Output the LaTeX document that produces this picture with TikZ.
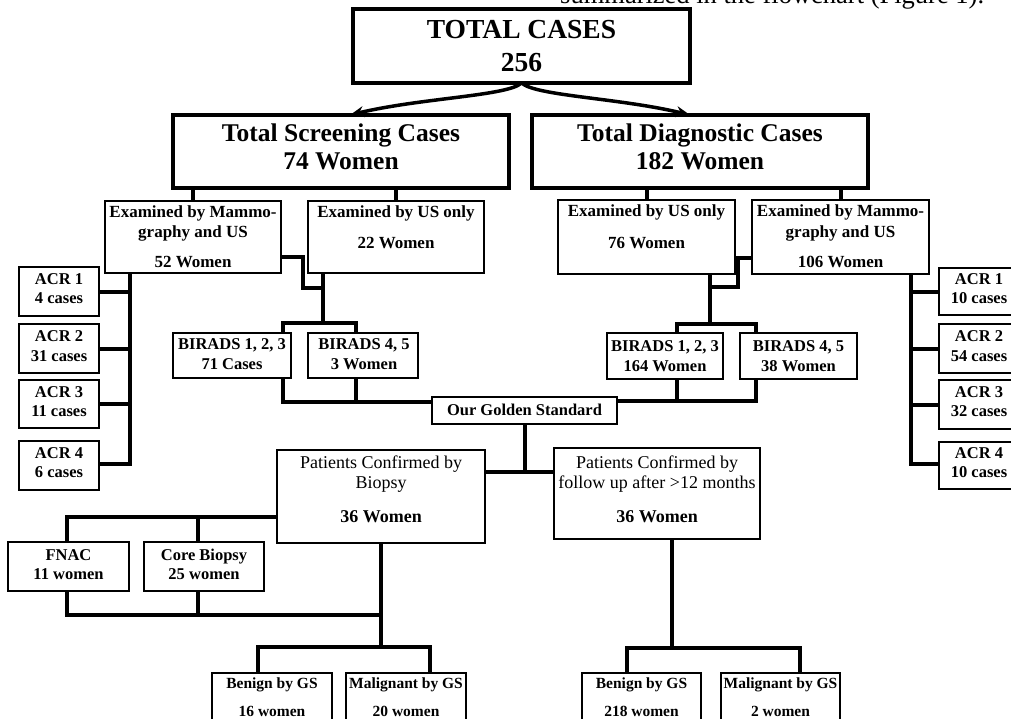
\documentclass[tikz,border=0pt]{standalone}
\usepackage{fontspec}
\setmainfont{Liberation Serif}
\usetikzlibrary{arrows.meta,calc}
\tikzset{
  bx/.style={draw, line width=2.5pt, rectangle, inner sep=0pt, outer sep=0pt},
  bigbx/.style={draw, line width=4.5pt, rectangle, inner sep=0pt, outer sep=0pt},
  conn/.style={line width=4pt},
  arr/.style={line width=3.5pt, -{Stealth[length=14pt,width=11pt]}},
  txt/.style={inner sep=0pt, anchor=base},
  fT/.style={font=\fontsize{27.5}{30}\selectfont\bfseries},
  fS/.style={font=\fontsize{25.5}{28}\selectfont\bfseries},
  fM/.style={font=\fontsize{17}{20}\selectfont\bfseries},
  fC/.style={font=\fontsize{16.5}{20}\selectfont\bfseries},
  fP/.style={font=\fontsize{18}{20}\selectfont},
  fPb/.style={font=\fontsize{18}{20}\selectfont\bfseries},
  fG/.style={font=\fontsize{15.5}{18}\selectfont\bfseries},
  fX/.style={font=\fontsize{26.5}{30}\selectfont},
}
\begin{document}
\begin{tikzpicture}[x=1pt,y=-1pt]
\useasboundingbox (0,0) rectangle (1011,719);

% cut header text
\node[txt,fX,anchor=base west] (hdr) at (560,4) {summarized in the flowchart (Figure 1).};

% ---- boxes ----
\node[bigbx, minimum width=337pt, minimum height=74pt] (total) at (521.5,46) {};
\node[bigbx, minimum width=336pt, minimum height=73pt] (scr) at (341,151.5) {};
\node[bigbx, minimum width=336pt, minimum height=73pt] (dia) at (700,151.5) {};

\node[bx, minimum width=176pt, minimum height=72pt] (mamL) at (193,237) {};
\node[bx, minimum width=176pt, minimum height=72pt] (usL) at (396,237) {};
\node[bx, minimum width=177pt, minimum height=74pt] (usR) at (646.5,237) {};
\node[bx, minimum width=177pt, minimum height=74pt] (mamR) at (840.5,237) {};

\node[bx, minimum width=80pt, minimum height=49pt] (acrL1) at (59,291.5) {};
\node[bx, minimum width=80pt, minimum height=49pt] (acrL2) at (59,348.5) {};
\node[bx, minimum width=80pt, minimum height=48pt] (acrL3) at (59,404) {};
\node[bx, minimum width=80pt, minimum height=49pt] (acrL4) at (59,465.5) {};

\node[bx, minimum width=80pt, minimum height=47pt] (acrR1) at (979,291.5) {};
\node[bx, minimum width=80pt, minimum height=49pt] (acrR2) at (979,348.5) {};
\node[bx, minimum width=80pt, minimum height=49pt] (acrR3) at (979,404.5) {};
\node[bx, minimum width=80pt, minimum height=47pt] (acrR4) at (979,465.5) {};

\node[bx, minimum width=118pt, minimum height=45pt] (birL1) at (232,355.5) {};
\node[bx, minimum width=110pt, minimum height=45pt] (birL2) at (363,355.5) {};
\node[bx, minimum width=116pt, minimum height=46pt] (birR1) at (665,356) {};
\node[bx, minimum width=117pt, minimum height=46pt] (birR2) at (798.5,356) {};

\node[bx, minimum width=185pt, minimum height=27pt] (gold) at (524.5,410.5) {};
\node[bx, minimum width=208pt, minimum height=93pt] (biop) at (381,496.5) {};
\node[bx, minimum width=206pt, minimum height=91pt] (fol) at (657,493.5) {};

\node[bx, minimum width=121pt, minimum height=49pt] (fnac) at (68.5,566.5) {};
\node[bx, minimum width=120pt, minimum height=49pt] (core) at (204,566.5) {};

\node[bx, minimum width=120pt, minimum height=62pt] (ben1) at (272,704) {};
\node[bx, minimum width=120pt, minimum height=62pt] (mal1) at (406,704) {};
\node[bx, minimum width=119pt, minimum height=62pt] (ben2) at (641.5,704) {};
\node[bx, minimum width=119pt, minimum height=62pt] (mal2) at (780.5,704) {};

% ---- texts ----
\node[txt,fT] (totalA) at (521.5,39) {TOTAL CASES};
\node[txt,fT] (totalB) at (521.5,72) {256};
\node[txt,fS] (scrA) at (341,142) {Total Screening Cases};
\node[txt,fS] (scrB) at (341,170) {74 Women};
\node[txt,fS] (diaA) at (700,142) {Total Diagnostic Cases};
\node[txt,fS] (diaB) at (700,170) {182 Women};

\node[txt,fM] (mamLA) at (193,218) {Examined by Mammo-};
\node[txt,fM] (mamLB) at (193,238) {graphy and US};
\node[txt,fM] (mamLC) at (193,267) {52 Women};
\node[txt,fM] (usLA) at (396,218) {Examined by US only};
\node[txt,fM] (usLB) at (396,248) {22 Women};
\node[txt,fM] (usRA) at (646.5,217) {Examined by US only};
\node[txt,fM] (usRB) at (646.5,248) {76 Women};
\node[txt,fM] (mamRA) at (840.5,217) {Examined by Mammo-};
\node[txt,fM] (mamRB) at (840.5,237) {graphy and US};
\node[txt,fM] (mamRC) at (840.5,267) {106 Women};

\node[txt,fC] (acrL1A) at (59,284) {ACR 1};
\node[txt,fC] (acrL1B) at (59,303.5) {4 cases};
\node[txt,fC] (acrL2A) at (59,341.5) {ACR 2};
\node[txt,fC] (acrL2B) at (59,361) {31 cases};
\node[txt,fC] (acrL3A) at (59,397) {ACR 3};
\node[txt,fC] (acrL3B) at (59,416.5) {11 cases};
\node[txt,fC] (acrL4A) at (59,458) {ACR 4};
\node[txt,fC] (acrL4B) at (59,477.5) {6 cases};

\node[txt,fC] (acrR1A) at (979,284) {ACR 1};
\node[txt,fC] (acrR1B) at (979,303.5) {10 cases};
\node[txt,fC] (acrR2A) at (979,341.5) {ACR 2};
\node[txt,fC] (acrR2B) at (979,361) {54 cases};
\node[txt,fC] (acrR3A) at (979,397) {ACR 3};
\node[txt,fC] (acrR3B) at (979,416.5) {32 cases};
\node[txt,fC] (acrR4A) at (979,458) {ACR 4};
\node[txt,fC] (acrR4B) at (979,477.5) {10 cases};

\node[txt,fC] (birL1A) at (232,349) {BIRADS 1, 2, 3};
\node[txt,fC] (birL1B) at (232,369) {71 Cases};
\node[txt,fC] (birL2A) at (364,349) {BIRADS 4, 5};
\node[txt,fC] (birL2B) at (364,369) {3 Women};
\node[txt,fC] (birR1A) at (665,351) {BIRADS 1, 2, 3};
\node[txt,fC] (birR1B) at (665,371) {164 Women};
\node[txt,fC] (birR2A) at (798.5,351) {BIRADS 4, 5};
\node[txt,fC] (birR2B) at (798.5,371) {38 Women};

\node[txt,fC] (goldA) at (524.5,415.5) {Our Golden Standard};

\node[txt,fP] (biopA) at (381,468) {Patients Confirmed by};
\node[txt,fP] (biopB) at (381,488) {Biopsy};
\node[txt,fPb] (biopC) at (381,522) {36 Women};
\node[txt,fP] (folA) at (657,468) {Patients Confirmed by};
\node[txt,fP] (folB) at (657,488) {follow up after >12 months};
\node[txt,fPb] (folC) at (657,522) {36 Women};

\node[txt,fC] (fnacA) at (68.5,560) {FNAC};
\node[txt,fC] (fnacB) at (68.5,579) {11 women};
\node[txt,fC] (coreA) at (204,560) {Core Biopsy};
\node[txt,fC] (coreB) at (204,579) {25 women};

\node[txt,fG] (ben1A) at (272,688) {Benign by GS};
\node[txt,fG] (ben1B) at (272,716) {16 women};
\node[txt,fG] (mal1A) at (406,688) {Malignant by GS};
\node[txt,fG] (mal1B) at (406,716) {20 women};
\node[txt,fG] (ben2A) at (641.5,688) {Benign by GS};
\node[txt,fG] (ben2B) at (641.5,716) {218 women};
\node[txt,fG] (mal2A) at (780.5,688) {Malignant by GS};
\node[txt,fG] (mal2B) at (780.5,716) {2 women};

% ---- junction coordinates ----
\coordinate (xA) at (130,0);
\coordinate (xR) at (911,0);
\coordinate (jUL) at (323,323);
\coordinate (kL) at (303,288);
\coordinate (jUR) at (710,324);
\coordinate (kR) at (738,287);
\coordinate (jG) at (524.5,472);
\coordinate (jB) at (381,615);
\coordinate (jB2) at (381,647);
\coordinate (jF) at (672,648);

% ---- arrows from total ----
\draw[arr] (total.south) .. controls (508,96) and (420,98) .. ($(scr.north west)+(177,0)$);
\draw[arr] (total.south) .. controls (536,96) and (620,98) .. ($(dia.north west)+(158,0)$);

% ---- connectors ----
\draw[conn] (mamL.north |- scr.south) -- (mamL.north);
\draw[conn] (usL.north |- scr.south) -- (usL.north);
\draw[conn] (usR.north |- dia.south) -- (usR.north);
\draw[conn] (mamR.north |- dia.south) -- (mamR.north);

% left ACR
\draw[conn] (mamL.south -| xA) |- ([yshift=2pt]acrL4.east);
\draw[conn] (acrL1.east) -- (acrL1.east -| xA);
\draw[conn] (acrL2.east) -- (acrL2.east -| xA);
\draw[conn] (acrL3.east) -- (acrL3.east -| xA);
% right ACR
\draw[conn] (mamR.south -| xR) |- ([yshift=2pt]acrR4.west);
\draw[conn] (acrR1.west) -- (acrR1.west -| xR);
\draw[conn] (acrR2.west) -- (acrR2.west -| xR);
\draw[conn] (acrR3.west) -- (acrR3.west -| xR);

% left BIRADS
\draw[conn] (usL.south -| jUL) -- (jUL);
\draw[conn] ([yshift=-20pt]mamL.east) -| (kL) -- (kL -| jUL);
\draw[conn] ($(birL1.north east)+(-8,0)$) |- (jUL) -| ($(birL2.north west)+(48,0)$);
\draw[conn] ($(birL1.south east)+(-8,0)$) |- ([yshift=-5pt]gold.north west);
\draw[conn] ($(birL2.south west)+(48,0)$) -- ($(birL2.south west)+(48,24)$);
% right BIRADS
\draw[conn] (usR.south -| jUR) -- (jUR);
\draw[conn] ([yshift=-21pt]mamR.west) -| (kR) -- (kR -| jUR);
\draw[conn] ($(birR1.north west)+(70,0)$) |- (jUR) -| ($(birR2.north west)+(16,0)$);
\draw[conn] ($(birR2.south west)+(16,0)$) |- ([yshift=-4pt]gold.north east);
\draw[conn] ($(birR1.south west)+(70,0)$) -- ($(birR1.south west)+(70,22)$);

% golden standard down
\draw[conn] (gold.south) -- (jG);
\draw[conn] (biop.east |- jG) -- (fol.west |- jG);

% biopsy branches
\draw[conn] ([yshift=-20.5pt]biop.west) -| ($(fnac.north west)+(59,0)$);
\draw[conn] ($(core.north west)+(54,0)$) -- ($(core.north west)+(54,-25)$);
\draw[conn] ($(fnac.south west)+(59,0)$) |- (jB);
\draw[conn] ($(core.south west)+(54,0)$) -- ($(core.south west)+(54,24)$);
\draw[conn] (biop.south) -- (jB2);
\draw[conn] ($(ben1.north west)+(46,0)$) |- (jB2) -| ($(mal1.north west)+(84,0)$);

% follow-up branches
\draw[conn] (fol.south -| jF) -- (jF);
\draw[conn] ($(ben2.north west)+(45,0)$) |- (jF) -| ($(mal2.north west)+(79,0)$);
\end{tikzpicture}
\end{document}
